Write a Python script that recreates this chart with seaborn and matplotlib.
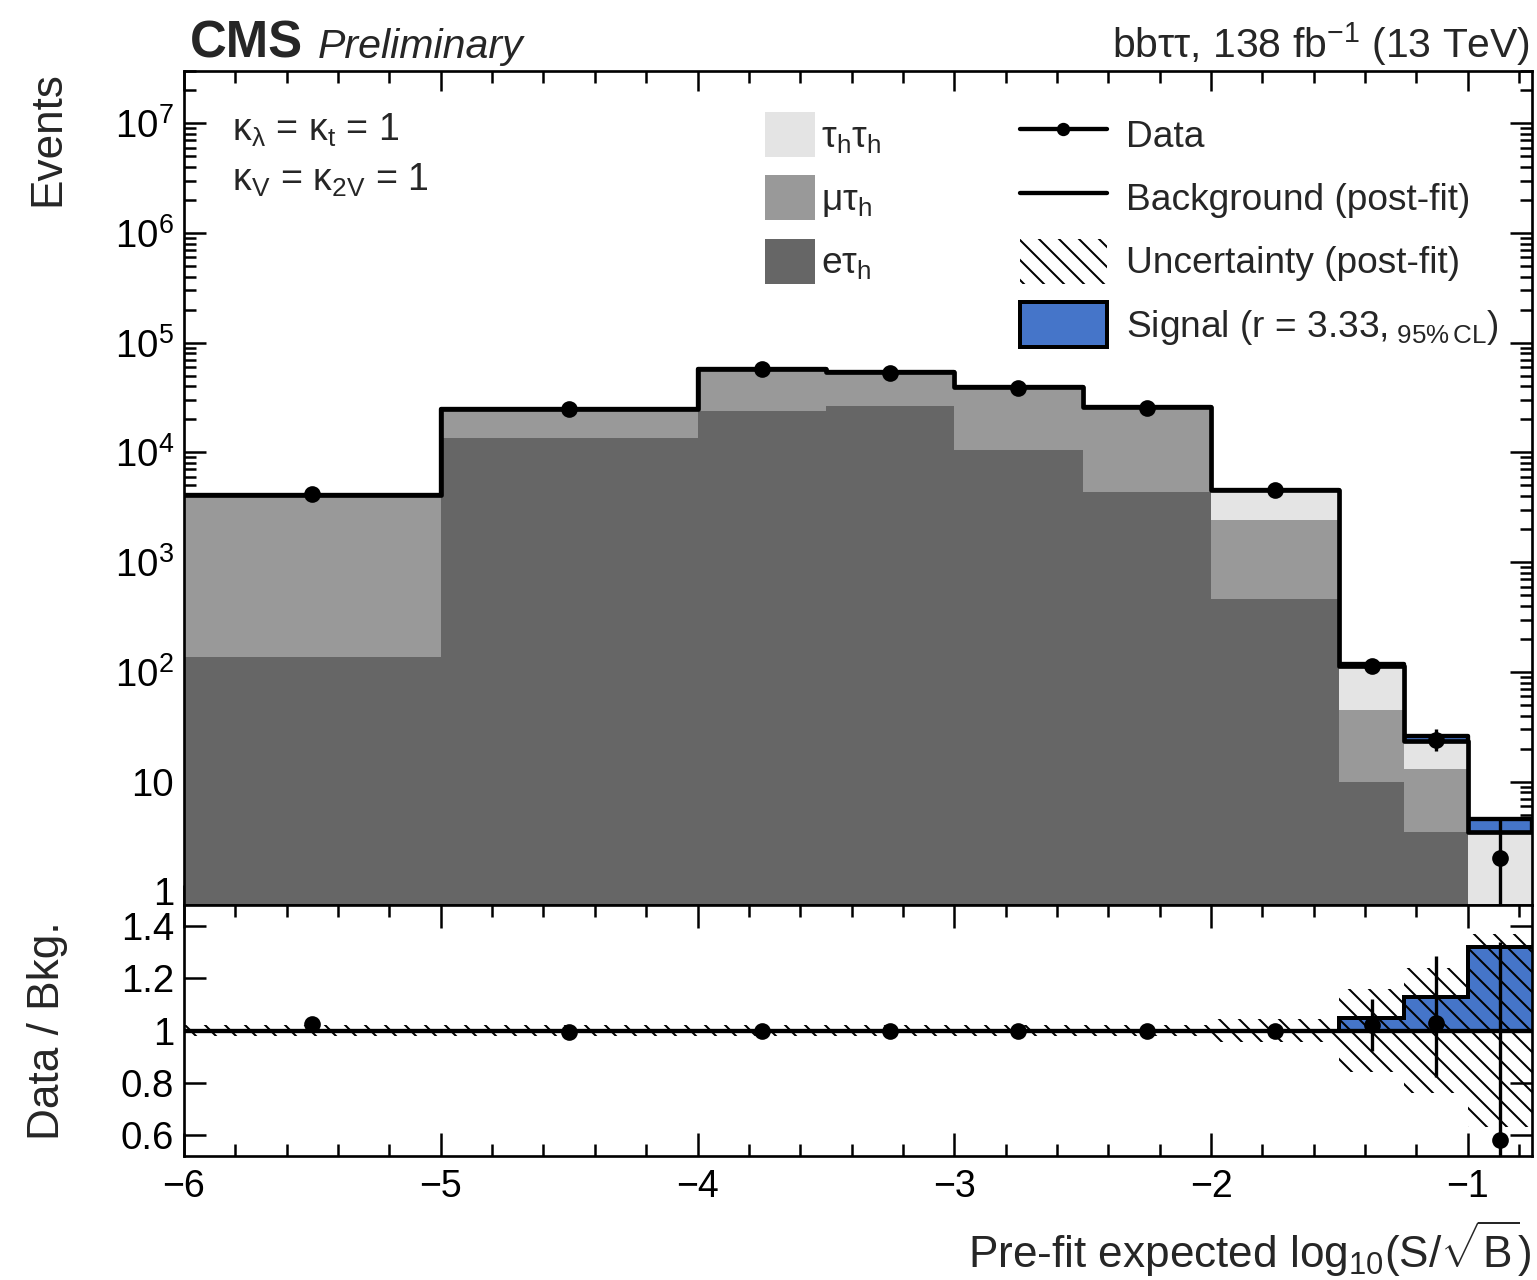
import numpy as np
import matplotlib
matplotlib.use("Agg")
import matplotlib.pyplot as plt
import seaborn as sns
from matplotlib.patches import Patch
from matplotlib.lines import Line2D
from matplotlib.ticker import MultipleLocator, LogLocator, FuncFormatter, FixedLocator, NullFormatter

# ---------------- data ----------------
bin_edges = [-6.0, -5.0, -4.0, -3.5, -3.0, -2.5, -2.0, -1.5, -1.25, -1.0, -0.75]
bin_centers = [-5.5, -4.5, -3.75, -3.25, -2.75, -2.25, -1.75, -1.375, -1.125, -0.875]

etau = [137, 13500, 23900, 26600, 10600, 4370, 463, 10.0, 3.5, 0.3]
mutau = [3863, 10900, 32400, 25900, 27900, 20730, 1967, 35.0, 9.5, 0.2]
tautau = [100, 600, 1500, 1500, 900, 600, 2130, 68.0, 10.6, 3.0]
signal = [0, 0, 0, 0, 0, 0, 0, 4.5, 2.2, 1.06]

data = [4150, 25000, 57800, 53500, 38600, 25400, 4530, 112, 24, 2]
data_err_lo = [64, 158, 240, 231, 196, 159, 67, 10.6, 4.9, 1.4]
data_err_hi = [64, 158, 240, 231, 196, 159, 67, 11.6, 5.9, 2.6]

ratio_data = [1.023, 0.994, 1.0, 1.0, 1.0, 1.0, 1.0, 1.02, 1.028, 0.58]
ratio_err_lo = [0.016, 0.006, 0.004, 0.004, 0.005, 0.006, 0.015, 0.097, 0.205, 0.40]
ratio_err_hi = [0.016, 0.006, 0.004, 0.004, 0.005, 0.006, 0.015, 0.100, 0.257, 0.76]
ratio_signal = [0, 0, 0, 0, 0, 0, 0, 0.049, 0.13, 0.32]
ratio_unc = [0.02, 0.02, 0.02, 0.02, 0.02, 0.02, 0.045, 0.16, 0.24, 0.37]

x_ticklabels = ["\u22126", "\u22125", "\u22124", "\u22123", "\u22122", "\u22121"]
ratio_ticks = [0.6, 0.8, 1.0, 1.2, 1.4]
ratio_ticklabels = ["0.6", "0.8", "1", "1.2", "1.4"]

col_tt = "#e4e4e4"
col_mt = "#999999"
col_et = "#666666"
col_sig = "#4575c9"

# ---------------- style ----------------
sns.set_theme(style="ticks")
plt.rcParams["font.family"] = ["Liberation Sans", "DejaVu Sans"]
plt.rcParams["mathtext.fontset"] = "custom"
plt.rcParams["mathtext.rm"] = "Liberation Sans"
plt.rcParams["mathtext.it"] = "Liberation Sans:italic"
plt.rcParams["mathtext.bf"] = "Liberation Sans:bold"
plt.rcParams["hatch.linewidth"] = 1.2
plt.rcParams["axes.linewidth"] = 1.6

DPI = 120
fig = plt.figure(figsize=(1537 / DPI, 1280 / DPI), dpi=DPI)
ax = fig.add_axes([0.11971, 0.29297, 0.87703, 0.65156])
rax = fig.add_axes([0.11971, 0.096875, 0.87703, 0.19609])

ax.set_yscale("log")

edges = np.array(bin_edges)
e = np.array(etau); m = np.array(mutau); t = np.array(tautau)
bkg = e + m + t
sig_top = bkg + np.array(signal)

# signal stacked on top of background (drawn first, covered by bkg fills)
sns.histplot(x=bin_centers, weights=sig_top, bins=bin_edges, element="step", fill=True,
             color=col_sig, alpha=1, edgecolor="black", linewidth=2.6, ax=ax, zorder=1)
# stacked backgrounds
for vals, col in [(bkg, col_tt), (e + m, col_mt), (e, col_et)]:
    sns.histplot(x=bin_centers, weights=vals, bins=bin_edges, element="step", fill=True,
                 color=col, alpha=1, edgecolor="none", linewidth=0, ax=ax, zorder=2)
# background total line
sns.histplot(x=bin_centers, weights=bkg, bins=bin_edges, element="step", fill=False,
             color="black", linewidth=2.8, ax=ax, zorder=3)
# data
ax.errorbar(bin_centers, data, yerr=[data_err_lo, data_err_hi], fmt="o", color="black",
            ms=9, elinewidth=2.0, capsize=0, zorder=5)

ax.set_xlim(-6, -0.75)
ax.set_ylim(0.75, 3e7)

# ---------------- ratio panel ----------------
rs = np.array(ratio_signal)
rax.stairs(1 + rs, edges, baseline=1, fill=True, color=col_sig, zorder=1)
rax.stairs(1 + rs, edges, baseline=None, color="black", linewidth=2.4, zorder=4)
ru = np.array(ratio_unc)
rax.fill_between(edges, np.append(1 - ru, 1 - ru[-1]), np.append(1 + ru, 1 + ru[-1]),
                 step="post", facecolor="none", edgecolor="black", hatch="\\\\", linewidth=0, zorder=3)
rax.axhline(1.0, color="black", linewidth=2.6, zorder=4)
rax.errorbar(bin_centers, ratio_data, yerr=[ratio_err_lo, ratio_err_hi], fmt="o", color="black",
             ms=9, elinewidth=2.0, capsize=0, zorder=5)
rax.set_xlim(-6, -0.75)
rax.set_ylim(0.52, 1.48)

# ---------------- ticks ----------------
def fmt_x(v, pos):
    iv = int(round(v))
    if abs(v - iv) < 1e-6 and -6 <= iv <= -1:
        return x_ticklabels[iv + 6]
    return ""

def fmt_logy(v, pos):
    n = int(round(np.log10(v)))
    if n == 0:
        return "1"
    if n == 1:
        return "10"
    return r"$10^{%d}$" % n

def fmt_ratio(v, pos):
    r = round(v, 1)
    return ratio_ticklabels[ratio_ticks.index(r)] if r in ratio_ticks else ""

for a in (ax, rax):
    a.xaxis.set_major_locator(MultipleLocator(1.0))
    a.xaxis.set_minor_locator(MultipleLocator(0.2))
    a.tick_params(which="both", direction="in", top=True, right=True, width=1.5, colors="black")
    for s in a.spines.values():
        s.set_linewidth(1.6)
        s.set_color("black")

ax.yaxis.set_major_locator(LogLocator(base=10, numticks=20))
ax.yaxis.set_minor_locator(LogLocator(base=10, subs=np.arange(2, 10), numticks=200))
ax.yaxis.set_major_formatter(FuncFormatter(fmt_logy))
ax.yaxis.set_minor_formatter(NullFormatter())
ax.tick_params(which="major", length=13, labelsize=23, pad=6)
ax.tick_params(which="minor", length=7)
ax.tick_params(axis="x", which="major", length=12)
ax.tick_params(labelbottom=False)

rax.xaxis.set_major_formatter(FuncFormatter(fmt_x))
rax.yaxis.set_major_locator(FixedLocator(ratio_ticks))
rax.yaxis.set_major_formatter(FuncFormatter(fmt_ratio))
rax.yaxis.set_minor_locator(FixedLocator([]))
rax.tick_params(which="major", length=14, labelsize=22.5, pad=8)
rax.tick_params(axis="y", which="major", length=13, pad=6, labelsize=23)
rax.tick_params(which="minor", length=7)

# ---------------- labels ----------------
ax.set_xlabel("")
ax.set_ylabel("Events", fontsize=26.5, loc="top")
ax.yaxis.set_label_coords(-0.086, 1.0)
rax.set_ylabel("Data / Bkg.", fontsize=26.5)
rax.yaxis.set_label_coords(-0.086, 0.5)
rax.set_xlabel(r"Pre-fit expected log$_{10}$(S/$\sqrt{\mathrm{B}}$)", fontsize=26.5, loc="right")
rax.xaxis.set_label_coords(1.0, -0.25)

fig.text(190 / 1537, 1 - 58 / 1280, "CMS", fontsize=30.5, fontweight="bold", va="baseline", ha="left")
fig.text(318 / 1537, 1 - 58 / 1280, "Preliminary", fontsize=24.7, fontstyle="italic", va="baseline", ha="left")
fig.text(1530 / 1537, 1 - 58 / 1280, "bb\u03c4\u03c4, 138 fb$^{-1}$ (13 TeV)",
         fontsize=24.5, va="baseline", ha="right")

ax.text(0.0356, 0.917, "\u03ba$_{\\mathrm{\u03bb}}$ = \u03ba$_{\\mathrm{t}}$ = 1", transform=ax.transAxes,
        fontsize=22.5, va="baseline", ha="left")
ax.text(0.0356, 0.857, "\u03ba$_{\\mathrm{V}}$ = \u03ba$_{\\mathrm{2V}}$ = 1", transform=ax.transAxes,
        fontsize=22.5, va="baseline", ha="left")

# ---------------- legends ----------------
FS = 22.3
h_left = [Patch(facecolor=col_tt, edgecolor="none"),
          Patch(facecolor=col_mt, edgecolor="none"),
          Patch(facecolor=col_et, edgecolor="none")]
l_left = ["\u03c4$_{\\mathrm{h}}$\u03c4$_{\\mathrm{h}}$", "\u03bc\u03c4$_{\\mathrm{h}}$", "e\u03c4$_{\\mathrm{h}}$"]
leg1 = ax.legend(h_left, l_left, loc="upper left", bbox_to_anchor=(0.431, 0.951), frameon=False,
                 fontsize=FS, handlelength=1.34, handleheight=1.48, handletextpad=0.18,
                 labelspacing=0.5, borderpad=0, borderaxespad=0)
ax.add_artist(leg1)

h_right = [Line2D([], [], color="black", marker="o", ms=7, lw=2.6),
           Line2D([], [], color="black", lw=2.6),
           Patch(facecolor="white", edgecolor="black", hatch="\\\\", linewidth=0),
           Patch(facecolor=col_sig, edgecolor="black", linewidth=2.4)]
l_right = ["Data", "Background (post-fit)", "Uncertainty (post-fit)",
           "Signal (r = 3.33,$_{\\mathrm{\\ 95\\%\\,CL}}$)"]
leg2 = ax.legend(h_right, l_right, loc="upper left", bbox_to_anchor=(0.620, 0.951), frameon=False,
                 fontsize=FS, handlelength=2.34, handleheight=1.48, handletextpad=0.53,
                 labelspacing=0.5, borderpad=0, borderaxespad=0)

fig.savefig("out.png", dpi=DPI)
